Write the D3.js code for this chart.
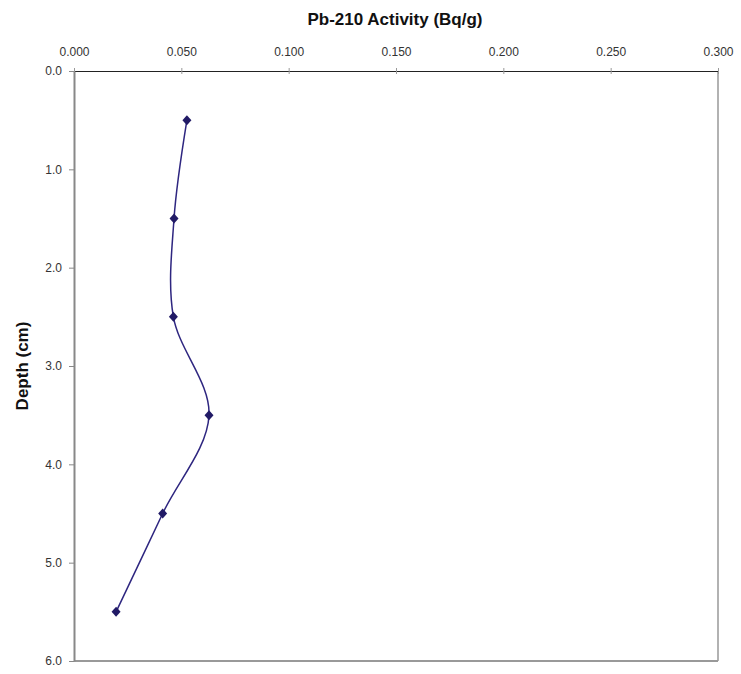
<!DOCTYPE html>
<html>
<head>
<meta charset="utf-8">
<script src="https://cdn.jsdelivr.net/npm/d3@7"></script>
<style>
  body { margin: 0; background: #fff; }
  svg { font-family: "Liberation Sans", Arial, sans-serif; }
</style>
</head>
<body>
<div id="chart"></div>
<script>
// Pb-210 activity profile
const depths = [0.5, 1.5, 2.5, 3.5, 4.5, 5.5];
const activity = [0.0526, 0.0466, 0.0463, 0.0629, 0.0413, 0.0196];
const xTicks = [0, 0.05, 0.1, 0.15, 0.2, 0.25, 0.3];
const yTicks = [0, 1, 2, 3, 4, 5, 6];

const width = 741, height = 674;
const margin = { top: 71, right: 23, bottom: 13, left: 74 };
const w = width - margin.left - margin.right;
const h = height - margin.top - margin.bottom;

const data = depths.map((d, i) => ({ depth: d, value: activity[i] }));

const svg = d3.select('#chart').append('svg')
    .attr('width', width)
    .attr('height', height);

const g = svg.append('g')
    .attr('transform', `translate(${margin.left}, ${margin.top})`);

const x = d3.scaleLinear().domain([0, 0.3]).range([0, w]);
const y = d3.scaleLinear().domain([0, 6]).range([0, h]);

// frame: right and bottom grey
g.append('line').attr('x1', w).attr('x2', w).attr('y1', 0).attr('y2', h)
    .attr('stroke', '#999').attr('stroke-width', 1.5);
g.append('line').attr('x1', 0).attr('x2', w).attr('y1', h).attr('y2', h)
    .attr('stroke', '#999').attr('stroke-width', 2);

// axes
const xAxis = d3.axisTop(x).tickValues(xTicks).tickFormat(d3.format('.3f')).tickSize(5).tickSizeOuter(0);
const yAxis = d3.axisLeft(y).tickValues(yTicks).tickFormat(d3.format('.1f')).tickSize(5).tickSizeOuter(0);

const xg = g.append('g').call(xAxis);
xg.select('.domain').attr('stroke', '#222').attr('stroke-width', 1.2);
xg.selectAll('.tick line').attr('stroke', '#999').attr('y2', 3).attr('y1', -3);
xg.selectAll('.tick text').attr('font-size', 12).attr('fill', '#333').attr('y', -15)
    .attr('font-family', '"Liberation Sans", Arial, sans-serif');

const yg = g.append('g').call(yAxis);
yg.select('.domain').attr('stroke', '#888').attr('stroke-width', 2);
yg.selectAll('.tick line').attr('stroke', '#888');
yg.selectAll('.tick text').attr('font-size', 12).attr('fill', '#333').attr('x', -12)
    .attr('font-family', '"Liberation Sans", Arial, sans-serif');

// smoothed line
const line = d3.line()
    .x(d => x(d.value))
    .y(d => y(d.depth))
    .curve(d3.curveCatmullRom.alpha(0.5));

g.append('path')
    .datum(data)
    .attr('fill', 'none')
    .attr('stroke', '#2e2680')
    .attr('stroke-width', 1.5)
    .attr('d', line);

// diamond markers
g.selectAll('.pt')
    .data(data)
    .join('path')
    .attr('class', 'pt')
    .attr('transform', d => `translate(${x(d.value)}, ${y(d.depth)})`)
    .attr('d', 'M0,-5L4.5,0L0,5L-4.5,0Z')
    .attr('fill', '#211a66');

// titles
svg.append('text')
    .attr('x', 395).attr('y', 25)
    .attr('text-anchor', 'middle')
    .attr('font-size', 17).attr('font-weight', 'bold').attr('fill', '#111')
    .text('Pb-210 Activity (Bq/g)');

svg.append('text')
    .attr('transform', `translate(28, ${margin.top + h / 2}) rotate(-90)`)
    .attr('text-anchor', 'middle')
    .attr('font-size', 17).attr('font-weight', 'bold').attr('fill', '#111')
    .text('Depth (cm)');
</script>
</body>
</html>
